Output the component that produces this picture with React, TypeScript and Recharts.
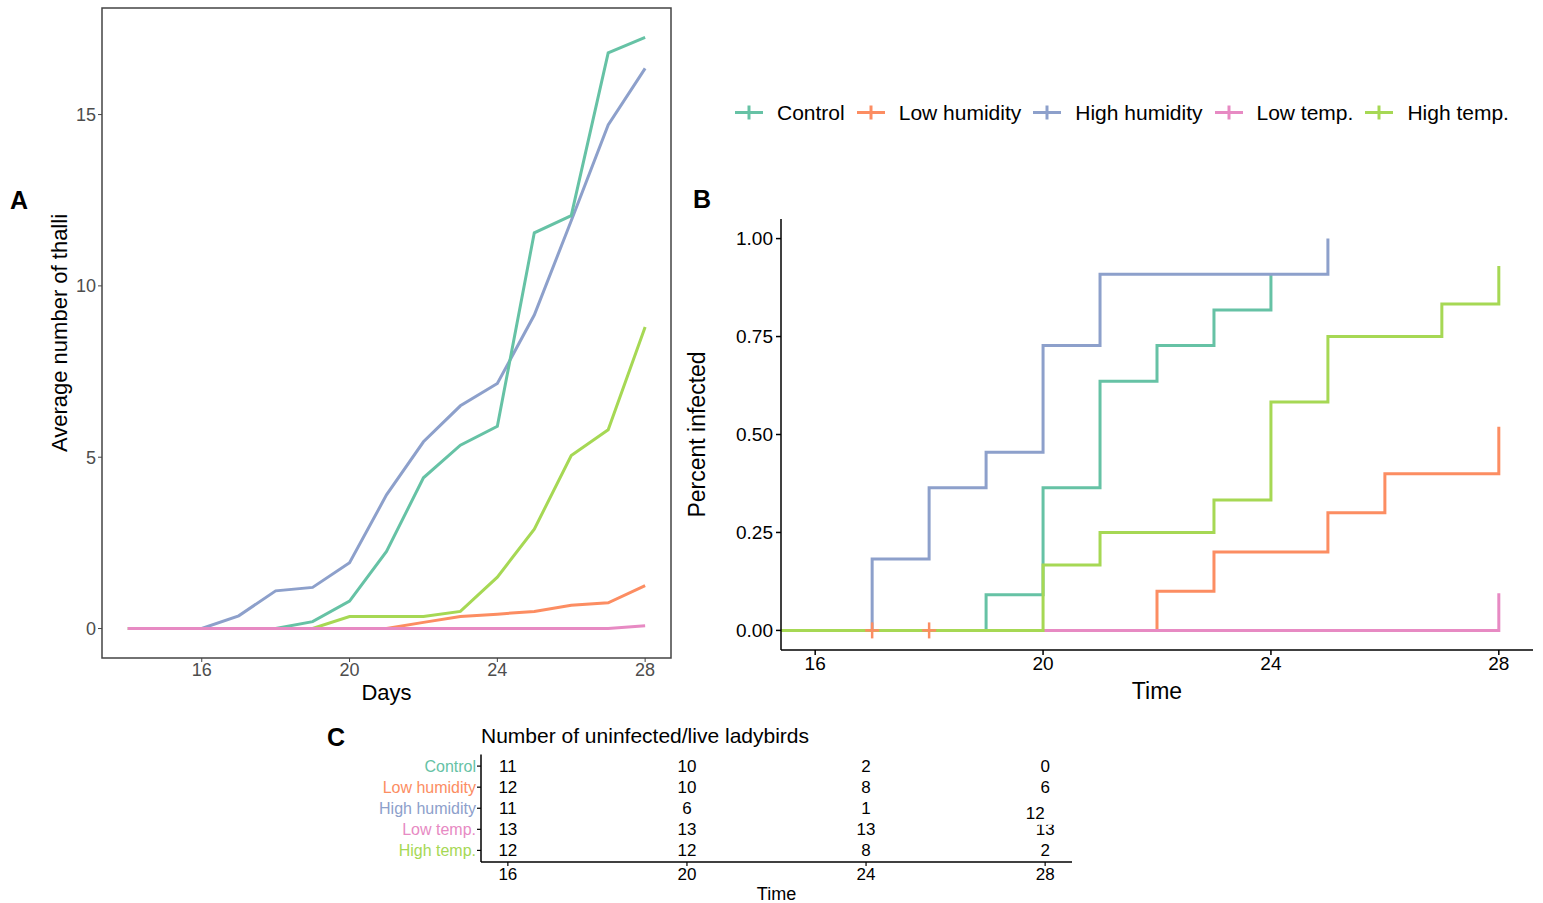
import React from 'react';
import {
  LineChart,
  Line,
  ComposedChart,
  ScatterChart,
  Scatter,
  XAxis,
  YAxis,
  ReferenceArea,
} from 'recharts';

// groups and colours (Set2)
const GROUPS = ['Control', 'Low humidity', 'High humidity', 'Low temp.', 'High temp.'];
const COLORS = ['#66C2A5', '#FC8D62', '#8DA0CB', '#E78AC3', '#A6D854'];

// panel A: average number of thalli per day
const DAYS = [14, 15, 16, 17, 18, 19, 20, 21, 22, 23, 24, 25, 26, 27, 28];
const thalliControl = [0, 0, 0, 0, 0, 0.2, 0.8, 2.25, 4.4, 5.35, 5.9, 11.55, 12.05, 16.8, 17.25];
const thalliLowHum = [0, 0, 0, 0, 0, 0, 0, 0, 0.18, 0.35, 0.42, 0.5, 0.68, 0.75, 1.25];
const thalliHighHum = [0, 0, 0, 0.37, 1.1, 1.2, 1.92, 3.9, 5.45, 6.5, 7.15, 9.15, 11.9, 14.7, 16.35];
const thalliLowTemp = [0, 0, 0, 0, 0, 0, 0, 0, 0, 0, 0, 0, 0, 0, 0.08];
const thalliHighTemp = [0, 0, 0, 0, 0, 0, 0.35, 0.35, 0.35, 0.5, 1.5, 2.9, 5.05, 5.8, 8.8];
const A_TICKS_X = [16, 20, 24, 28];
const A_TICKS_Y = [0, 5, 10, 15];

// panel B: cumulative proportion infected (step curves)
const ctrlTimes = [0, 19, 20, 21, 22, 23, 24];
const ctrlInf = [0, 0.091, 0.364, 0.636, 0.727, 0.818, 0.909];
const lowHumTimes = [0, 22, 23, 25, 26, 28];
const lowHumInf = [0, 0.1, 0.2, 0.3, 0.4, 0.52];
const highHumTimes = [0, 17, 18, 19, 20, 21, 25];
const highHumInf = [0, 0.182, 0.364, 0.455, 0.727, 0.909, 1.0];
const lowTempTimes = [0, 28];
const lowTempInf = [0, 0.095];
const highTempTimes = [0, 20, 21, 23, 24, 25, 27, 28];
const highTempInf = [0, 0.167, 0.25, 0.333, 0.583, 0.75, 0.833, 0.93];
const lowHumCensorTimes = [17, 18];
const B_TICKS_X = [16, 20, 24, 28];
const B_TICKS_Y = [0, 0.25, 0.5, 0.75, 1];

// panel C: number at risk
const TABLE_TIMES = [16, 20, 24, 28];
const riskControl = [11, 10, 2, 0];
const riskLowHum = [12, 10, 8, 6];
const riskHighHum = [11, 6, 1];
const riskLowTemp = [13, 13, 13, 13];
const riskHighTemp = [12, 12, 8, 2];
const strayLabel = { t: 27.78, g: 3.24, n: 12 };

const thalliData = DAYS.map((d, i) => ({
  day: d,
  control: thalliControl[i],
  lowHum: thalliLowHum[i],
  highHum: thalliHighHum[i],
  lowTemp: thalliLowTemp[i],
  highTemp: thalliHighTemp[i],
}));

const toSteps = (times: number[], vals: number[]) => times.map((t, i) => ({ t, v: vals[i] }));
const stepSeries = [
  { name: GROUPS[0], color: COLORS[0], data: toSteps(ctrlTimes, ctrlInf) },
  { name: GROUPS[1], color: COLORS[1], data: toSteps(lowHumTimes, lowHumInf) },
  { name: GROUPS[2], color: COLORS[2], data: toSteps(highHumTimes, highHumInf) },
  { name: GROUPS[3], color: COLORS[3], data: toSteps(lowTempTimes, lowTempInf) },
  { name: GROUPS[4], color: COLORS[4], data: toSteps(highTempTimes, highTempInf) },
];
const censorData = lowHumCensorTimes.map((t) => ({ t, v: 0 }));

const riskRows = [riskControl, riskLowHum, riskHighHum, riskLowTemp, riskHighTemp];
const tableData = riskRows.flatMap((row, gi) =>
  row.map((n, ti) => ({ t: TABLE_TIMES[ti], g: gi + 1, n }))
);

const FONT = '"Liberation Sans", Arial, sans-serif';

const letterStyle: React.CSSProperties = {
  position: 'absolute',
  fontSize: 25,
  fontWeight: 700,
  lineHeight: '25px',
  color: '#000',
};

function KeyGlyph({ color }: { color: string }) {
  return (
    <svg width={28} height={21} style={{ display: 'block' }}>
      <line x1={0} x2={28} y1={10.5} y2={10.5} stroke={color} strokeWidth={3} />
      <line x1={14} x2={14} y1={3.5} y2={17.5} stroke={color} strokeWidth={3} />
    </svg>
  );
}

const CensorMark = (props: any) => {
  const { cx, cy } = props;
  if (cx == null || cy == null) return null;
  return (
    <g>
      <line x1={cx - 7} x2={cx + 7} y1={cy} y2={cy} stroke={COLORS[1]} strokeWidth={2.5} />
      <line x1={cx} x2={cx} y1={cy - 8} y2={cy + 8} stroke={COLORS[1]} strokeWidth={2.5} />
    </g>
  );
};

const RiskNumber = (props: any) => {
  const { cx, cy, payload } = props;
  return (
    <text x={cx} y={cy} textAnchor="middle" dominantBaseline="central" fontSize={17} fill="#000">
      {payload.n}
    </text>
  );
};

const StrayNumber = (props: any) => {
  const { cx, cy, payload } = props;
  return (
    <g>
      <rect x={cx - 14} y={cy - 11} width={40} height={22.5} fill="#fff" />
      <text x={cx} y={cy} textAnchor="middle" dominantBaseline="central" fontSize={17} fill="#000">
        {payload.n}
      </text>
    </g>
  );
};

const GroupTick = (props: any) => {
  const { x, y, payload } = props;
  const idx = payload.value - 1;
  return (
    <text x={x} y={y} textAnchor="end" dominantBaseline="central" fontSize={16} fill={COLORS[idx]}>
      {GROUPS[idx]}
    </text>
  );
};

export default function App() {
  return (
    <div
      style={{
        position: 'absolute',
        left: 0,
        top: 0,
        width: 1543,
        height: 903,
        background: '#fff',
        fontFamily: FONT,
        overflow: 'hidden',
      }}
    >
      {/* panel letters */}
      <div style={{ ...letterStyle, left: 10, top: 188 }}>A</div>
      <div style={{ ...letterStyle, left: 693, top: 187 }}>B</div>
      <div style={{ ...letterStyle, left: 327, top: 725 }}>C</div>

      {/* Panel A */}
      <div style={{ position: 'absolute', left: 0, top: 0 }}>
        <LineChart
          width={690}
          height={712}
          data={thalliData}
          margin={{ top: 8, right: 19, bottom: 0, left: 0 }}
        >
          <XAxis
            dataKey="day"
            type="number"
            domain={[13.3, 28.7]}
            allowDataOverflow
            ticks={A_TICKS_X}
            interval={0}
            axisLine={false}
            tickSize={4}
            tickMargin={1}
            tickLine={{ stroke: '#444444' }}
            tick={{ fill: '#4D4D4D', fontSize: 18 }}
            height={54}
            label={{
              value: 'Days',
              position: 'insideBottom',
              offset: 12,
              style: { fontSize: 22, fill: '#000' },
            }}
          />
          <YAxis
            type="number"
            domain={[-0.86, 18.11]}
            allowDataOverflow
            ticks={A_TICKS_Y}
            interval={0}
            axisLine={false}
            tickSize={4}
            tickMargin={2}
            tickLine={{ stroke: '#444444' }}
            tick={{ fill: '#4D4D4D', fontSize: 18 }}
            width={102}
            label={{
              value: 'Average number of thalli',
              angle: -90,
              position: 'insideLeft',
              offset: 59,
              style: { fontSize: 22, fill: '#000', textAnchor: 'middle' },
            }}
          />
          <ReferenceArea
            x1={13.3}
            x2={28.7}
            y1={-0.86}
            y2={18.11}
            fill="none"
            fillOpacity={0}
            stroke="#444444"
            strokeWidth={1.5}
            ifOverflow="visible"
          />
          <Line dataKey="highHum" stroke={COLORS[2]} strokeWidth={3} dot={false} isAnimationActive={false} />
          <Line dataKey="control" stroke={COLORS[0]} strokeWidth={3} dot={false} isAnimationActive={false} />
          <Line dataKey="highTemp" stroke={COLORS[4]} strokeWidth={3} dot={false} isAnimationActive={false} />
          <Line dataKey="lowHum" stroke={COLORS[1]} strokeWidth={3} dot={false} isAnimationActive={false} />
          <Line dataKey="lowTemp" stroke={COLORS[3]} strokeWidth={3} dot={false} isAnimationActive={false} />
        </LineChart>
      </div>

      {/* legend for B */}
      <div
        style={{
          position: 'absolute',
          left: 735,
          top: 101.7,
          display: 'flex',
          alignItems: 'center',
          fontSize: 21,
          lineHeight: '21px',
          whiteSpace: 'nowrap',
        }}
      >
        {GROUPS.map((g, i) => (
          <div key={g} style={{ display: 'flex', alignItems: 'center', marginRight: 12 }}>
            <KeyGlyph color={COLORS[i]} />
            <span style={{ marginLeft: 14 }}>{g}</span>
          </div>
        ))}
      </div>

      {/* Panel B */}
      <div style={{ position: 'absolute', left: 680, top: 200 }}>
        <ComposedChart width={863} height={505} margin={{ top: 19, right: 10, bottom: 0, left: 0 }}>
          <XAxis
            dataKey="t"
            type="number"
            domain={[15.4, 28.6]}
            allowDataOverflow
            ticks={B_TICKS_X}
            interval={0}
            axisLine={{ stroke: '#000', strokeWidth: 1.5 }}
            tickLine={{ stroke: '#000', strokeWidth: 1.5 }}
            tickSize={5}
            tickMargin={2}
            tick={{ fill: '#000', fontSize: 19 }}
            height={55}
            label={{
              value: 'Time',
              position: 'insideBottom',
              offset: 6,
              style: { fontSize: 23, fill: '#000' },
            }}
          />
          <YAxis
            dataKey="v"
            type="number"
            domain={[-0.05, 1.05]}
            allowDataOverflow
            ticks={B_TICKS_Y}
            interval={0}
            tickFormatter={(v: number) => v.toFixed(2)}
            axisLine={{ stroke: '#000', strokeWidth: 1.5 }}
            tickLine={{ stroke: '#000', strokeWidth: 1.5 }}
            tickSize={5}
            tickMargin={3}
            tick={{ fill: '#000', fontSize: 19 }}
            width={101}
            label={{
              value: 'Percent infected',
              angle: -90,
              position: 'insideLeft',
              offset: 17,
              style: { fontSize: 23, fill: '#000', textAnchor: 'middle' },
            }}
          />
          {stepSeries.map((s) => (
            <Line
              key={s.name}
              data={s.data}
              dataKey="v"
              name={s.name}
              type="stepAfter"
              stroke={s.color}
              strokeWidth={3}
              dot={false}
              isAnimationActive={false}
            />
          ))}
          <Scatter data={censorData} dataKey="v" shape={CensorMark} isAnimationActive={false} />
        </ComposedChart>
      </div>

      {/* Panel C title */}
      <div
        style={{
          position: 'absolute',
          left: 481,
          top: 724.7,
          fontSize: 21,
          lineHeight: '21px',
          whiteSpace: 'nowrap',
        }}
      >
        Number of uninfected/live ladybirds
      </div>

      {/* Panel C */}
      <div style={{ position: 'absolute', left: 320, top: 745 }}>
        <ScatterChart width={760} height={158} margin={{ top: 9.5, right: 8, bottom: 0, left: 0 }}>
          <XAxis
            dataKey="t"
            type="number"
            domain={[15.4, 28.6]}
            allowDataOverflow
            ticks={TABLE_TIMES}
            interval={0}
            axisLine={{ stroke: '#000', strokeWidth: 1.5 }}
            tickLine={{ stroke: '#000', strokeWidth: 1.2 }}
            tickSize={4}
            tickMargin={2}
            tick={{ fill: '#000', fontSize: 17 }}
            height={41}
            label={{
              value: 'Time',
              position: 'insideBottom',
              offset: 3,
              style: { fontSize: 18, fill: '#000' },
            }}
          />
          <YAxis
            dataKey="g"
            type="number"
            domain={[0.45, 5.55]}
            reversed
            allowDataOverflow
            ticks={[1, 2, 3, 4, 5]}
            interval={0}
            axisLine={{ stroke: '#000', strokeWidth: 1.5 }}
            tickLine={{ stroke: '#000', strokeWidth: 1.2 }}
            tickSize={4}
            tickMargin={1}
            tick={GroupTick}
            width={161}
          />
          <Scatter data={tableData} shape={RiskNumber} isAnimationActive={false} />
          <Scatter data={[strayLabel]} shape={StrayNumber} isAnimationActive={false} />
        </ScatterChart>
      </div>
    </div>
  );
}
